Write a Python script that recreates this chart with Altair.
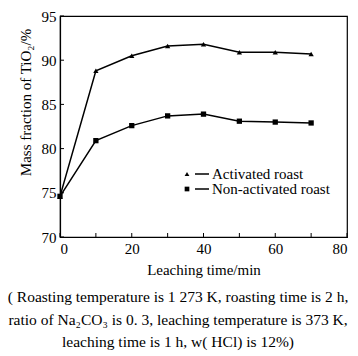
import altair as alt
import pandas as pd

time_min = [0, 10, 20, 30, 40, 50, 60, 70]
activated = [74.6, 88.8, 90.5, 91.6, 91.8, 90.9, 90.9, 90.7]
non_activated = [74.6, 80.9, 82.6, 83.7, 83.9, 83.1, 83.0, 82.9]
series_names = ["Activated roast", "Non-activated roast"]
x_ticks = [0, 10, 20, 30, 40, 50, 60, 70, 80]
y_ticks = [70, 75, 80, 85, 90, 95]
caption = [
    "( Roasting temperature is 1 273 K,  roasting time is 2 h,",
    "ratio of Na\u2082CO\u2083 is 0. 3,  leaching temperature is 373 K,",
    "leaching time is 1 h,  w( HCl)  is 12%)",
]

W, H = 287, 221
FONT = "Liberation Serif"

rows = []
for t, a, n in zip(time_min, activated, non_activated):
    rows.append({"t": t, "v": a, "s": series_names[0]})
    rows.append({"t": t, "v": n, "s": series_names[1]})
df = pd.DataFrame(rows)

xs = alt.Scale(domain=[0, 80], nice=False)
ys = alt.Scale(domain=[70, 95], nice=False)
shape_scale = alt.Scale(domain=series_names, range=["triangle-up", "square"])

base = alt.Chart(df)
lines = base.mark_line(color="black", strokeWidth=1.5).encode(
    x=alt.X("t:Q", scale=xs, axis=alt.Axis(values=x_ticks, title="Leaching time/min")),
    y=alt.Y("v:Q", scale=ys, axis=alt.Axis(values=y_ticks, title="Mass fraction of TiO\u2082/%",
                                             titleY=86)),
    detail="s:N",
)
points = base.mark_point(filled=True, color="black", opacity=1, size=28).encode(
    x=alt.X("t:Q", scale=xs),
    y=alt.Y("v:Q", scale=ys),
    shape=alt.Shape("s:N", scale=shape_scale, legend=None),
)

xt = alt.Chart(pd.DataFrame({"t": x_ticks})).mark_rule(color="black", strokeWidth=1).encode(
    x=alt.X("t:Q", scale=xs), y=alt.value(H), y2=alt.value(H - 4)
)
yt = alt.Chart(pd.DataFrame({"v": y_ticks})).mark_rule(color="black", strokeWidth=1).encode(
    y=alt.Y("v:Q", scale=ys), x=alt.value(0), x2=alt.value(4)
)

main = alt.layer(lines, points, xt, yt)

leg_df = pd.DataFrame({"s": series_names})
leg_y = alt.Y("s:N", scale=alt.Scale(type="point", domain=series_names, range=[158, 173], padding=0),
              axis=None)
leg_sym = alt.Chart(leg_df).mark_point(filled=True, color="black", opacity=1, size=22).encode(
    x=alt.value(127), y=leg_y, shape=alt.Shape("s:N", scale=shape_scale, legend=None)
)
leg_line = alt.Chart(leg_df).mark_rule(color="black", strokeWidth=1.5).encode(
    x=alt.value(135), x2=alt.value(149), y=leg_y
)
leg_text = alt.Chart(leg_df).mark_text(
    align="left", baseline="middle", font=FONT, fontSize=15, color="black"
).encode(x=alt.value(152), y=leg_y, text="s:N")
legend = alt.layer(leg_sym, leg_line, leg_text)

cap = alt.Chart(pd.DataFrame({"a": [0]})).mark_text(
    text=caption, align="center", baseline="middle", font=FONT, fontSize=15.5,
    lineHeight=22.5, color="black"
).encode(x=alt.value(118), y=alt.value(281))

chart = alt.layer(main, legend, cap).resolve_scale(
    y="independent", shape="independent"
).properties(
    width=W, height=H,
    autosize=alt.AutoSizeParams(type="none"),
    padding={"left": 60, "top": 16, "right": 11, "bottom": 119},
).configure_view(stroke="black", strokeWidth=1.2).configure_axis(
    grid=False, ticks=False, domainColor="black", domainWidth=1.2,
    labelFont=FONT, labelFontSize=15, labelColor="black",
    titleFont=FONT, titleFontSize=15, titleFontWeight="normal", titleColor="black",
).configure_axisX(labelPadding=4, titlePadding=6).configure_axisY(labelPadding=4, titlePadding=8)

chart.save("out.html", embed_options={"renderer": "svg", "actions": False})
